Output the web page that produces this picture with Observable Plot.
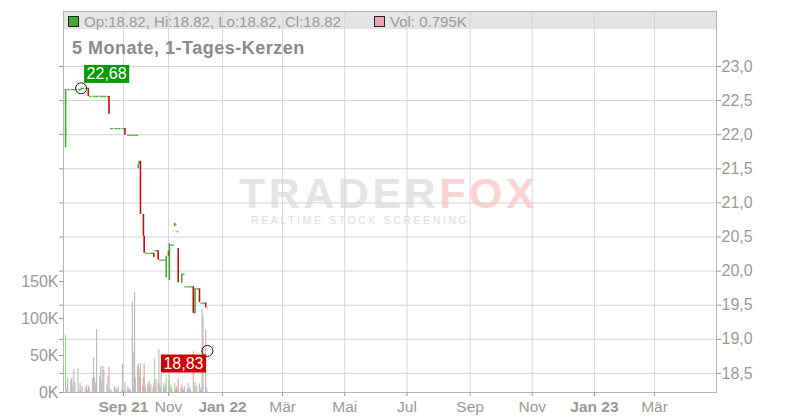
<!DOCTYPE html>
<html><head><meta charset="utf-8">
<script src="https://cdn.jsdelivr.net/npm/d3@7"></script>
<script src="https://cdn.jsdelivr.net/npm/@observablehq/plot@0.6"></script>
<style>
body{margin:0;background:#fff;font-family:"Liberation Sans",Arial,sans-serif;}
#wrap{position:relative;width:800px;height:420px;overflow:hidden;background:#fff;}
#wrap > *{position:absolute;left:0;top:0;}
.lg{position:absolute;font-size:15px;line-height:15px;color:#9a9a9a;white-space:nowrap;}
</style></head><body><div id="wrap"></div>
<script>
// ---- data ----
const dates = [
"2021-07-07","2021-07-08","2021-07-09","2021-07-12","2021-07-13","2021-07-14","2021-07-15","2021-07-16","2021-07-19","2021-07-20","2021-07-21","2021-07-22","2021-07-23","2021-07-26","2021-07-27","2021-07-28","2021-07-29","2021-07-30",
"2021-08-02","2021-08-03","2021-08-04","2021-08-05","2021-08-06","2021-08-09","2021-08-10","2021-08-11","2021-08-12","2021-08-13","2021-08-16","2021-08-17","2021-08-18","2021-08-19","2021-08-20","2021-08-23","2021-08-24","2021-08-25","2021-08-26","2021-08-27","2021-08-30","2021-08-31",
"2021-09-01","2021-09-02","2021-09-03","2021-09-06","2021-09-07","2021-09-08","2021-09-09","2021-09-10","2021-09-13","2021-09-14","2021-09-15","2021-09-16","2021-09-17","2021-09-20","2021-09-21","2021-09-22","2021-09-23","2021-09-24","2021-09-27","2021-09-28","2021-09-29","2021-09-30",
"2021-10-01","2021-10-04","2021-10-05","2021-10-06","2021-10-07","2021-10-08","2021-10-11","2021-10-12","2021-10-13","2021-10-14","2021-10-15","2021-10-18","2021-10-19","2021-10-20","2021-10-21","2021-10-22","2021-10-25","2021-10-26","2021-10-27","2021-10-28","2021-10-29",
"2021-11-01","2021-11-02","2021-11-03","2021-11-04","2021-11-05","2021-11-08","2021-11-09","2021-11-10","2021-11-11","2021-11-12","2021-11-15","2021-11-16","2021-11-17","2021-11-18","2021-11-19","2021-11-22","2021-11-23","2021-11-24","2021-11-25","2021-11-26","2021-11-29","2021-11-30",
"2021-12-01","2021-12-02","2021-12-03","2021-12-06","2021-12-07","2021-12-08","2021-12-09","2021-12-10","2021-12-13","2021-12-14","2021-12-15"];
const opens = [
21.81,22.66,22.66,22.66,22.66,22.66,22.66,22.66,22.66,22.66,22.66,22.66,22.68,22.68,22.68,22.68,22.68,22.56,
22.56,22.56,22.56,22.56,22.56,22.56,22.56,22.56,22.56,22.56,22.56,22.56,22.56,22.09,22.09,22.09,22.09,22.09,22.09,22.09,22.09,22.09,
22.09,22.09,22.09,21.99,21.99,21.99,21.99,21.99,21.99,21.99,21.99,21.99,21.99,21.99,21.50,21.56,21.61,21.61,20.83,20.83,20.51,20.26,
20.26,20.26,20.26,20.26,20.26,20.26,20.26,20.26,20.30,20.30,20.30,20.30,20.16,20.16,20.16,20.16,20.16,20.16,20.16,20.16,19.90,
20.29,19.86,20.38,20.38,20.38,20.65,20.68,20.58,20.58,20.33,19.83,19.83,19.96,19.95,19.77,19.77,19.77,19.77,19.77,19.77,19.77,19.38,
19.38,19.74,19.74,19.74,19.53,19.53,19.53,19.53,19.53,19.46,18.82];
const closes = [
22.66,22.66,22.66,22.66,22.66,22.66,22.66,22.66,22.66,22.66,22.66,22.68,22.68,22.68,22.68,22.68,22.56,22.56,
22.56,22.56,22.56,22.56,22.56,22.56,22.56,22.56,22.56,22.56,22.56,22.56,22.30,22.09,22.09,22.09,22.09,22.09,22.09,22.09,22.09,22.09,
22.09,22.09,21.99,21.99,21.99,21.99,21.99,21.99,21.99,21.99,21.99,21.99,21.99,21.99,21.56,21.61,21.61,20.83,20.83,20.51,20.26,20.26,
20.26,20.26,20.26,20.26,20.26,20.26,20.26,20.20,20.30,20.30,20.30,20.16,20.16,20.16,20.16,20.16,20.16,20.16,20.16,20.16,20.22,
20.22,20.40,20.38,20.38,20.38,20.70,20.68,20.58,20.58,19.83,19.83,19.96,19.96,19.95,19.77,19.77,19.77,19.77,19.77,19.77,19.38,19.38,
19.74,19.74,19.74,19.54,19.53,19.53,19.53,19.53,19.46,19.46,18.82];
const volumesK = [
78,4,19,16,20,9,31,14,32,3,12,4,8,5,10,3,9,6,
19,47,20,12,85,22,35,15,35,30,12,22,34,4,3,8,4,6,3,7,3,38,
3,2,13,3,8,3,5,3,123,6,55,135,20,34,38,32,20,39,8,20,39,10,
6,12,8,15,4,10,6,12,45,8,18,14,58,10,6,25,8,12,5,9,20,
15,25,6,10,4,12,4,8,3,18,5,10,6,3,8,4,12,5,7,3,55,8,
14,5,9,12,3,6,112,103,84,6,0.795];

const priceTicks = [18.5,19.0,19.5,20.0,20.5,21.0,21.5,22.0,22.5,23.0];
const volumeTicks = [0,50,100,150];
const monthTickDates = ["2021-09-01","2021-11-01","2022-01-01","2022-03-01","2022-05-01","2022-07-01","2022-09-01","2022-11-01","2023-01-01","2023-03-01"];
const monthTickLabels = ["Sep 21","Nov","Jan 22","Mär","Mai","Jul","Sep","Nov","Jan 23","Mär"];
const markerDates = ["2021-07-22","2021-12-15"];
const markerValues = [22.68,18.83];
const markerKinds = ["high","low"];
const titleText = "5 Monate, 1-Tages-Kerzen";
const last = {op:18.82, hi:18.82, lo:18.82, cl:18.82, volK:0.795};

// ---- config ----
const GREEN = "#45a834", RED = "#bb1111";
const VGREY = "#bdbdbd", VGREEN = "#a6d99d", VPINK = "#eea4ac";
const BOX = {high: "#0a990a", low: "#cc0000"};
const parse = d3.utcParse("%Y-%m-%d");
const W = 800, H = 420, M = {top:11, bottom:28, left:63, right:84};
const xAnchors = ["2021-07-05","2021-09-01","2021-11-01","2022-01-01","2023-03-01","2023-05-01"].map(parse);
const xScale = {type:"utc", domain:xAnchors, range:[63,123,168,222,654,716]};
const priceDomain = [18.22, 23.806];
const fmtComma = d => d.toFixed(1).replace(".", ",");
const fmtComma2 = d => d.toFixed(2).replace(".", ",");

const days = dates.map((d,i) => ({
  date: parse(d), next: i < dates.length-1 ? parse(dates[i+1]) : null,
  open: opens[i], close: closes[i], vol: volumesK[i],
  prev: i ? closes[i-1] : opens[i]
}));
const moves = days.filter(d => d.open !== d.close);
const flats = days.filter(d => d.open === d.close && d.next);
const markers = markerDates.map((d,i) => ({date: parse(d), value: markerValues[i], kind: markerKinds[i], label: fmtComma2(markerValues[i])}));
const ticks = monthTickDates.map((d,i) => ({date: parse(d), label: monthTickLabels[i]}));
const labelOf = new Map(ticks.map(t => [+t.date, t.label]));
const yearTicks = ticks.filter(t => /\d/.test(t.label)).map(t => t.date);
const plainTicks = ticks.filter(t => !/\d/.test(t.label)).map(t => t.date);

const base = {
  width: W, height: H, marginTop: M.top, marginBottom: M.bottom, marginLeft: M.left, marginRight: M.right,
  style: {background: "transparent", fontFamily: '"Liberation Sans", Arial, sans-serif', color: "#9a9a9a", overflow: "visible"}
};

// Plot A: grid, frame, axes (price scale)
const gridPlot = Plot.plot({
  ...base,
  x: {...xScale},
  y: {domain: priceDomain, label: null},
  marks: [
    Plot.gridX(ticks.map(t => t.date), {stroke: "#d6d6d6", strokeOpacity: 1}),
    Plot.gridY(priceTicks, {stroke: "#d6d6d6", strokeOpacity: 1}),
    Plot.frame({stroke: "#b4b4b4"}),
    Plot.axisY(priceTicks, {anchor: "right", tickFormat: fmtComma, tickSize: 4, tickPadding: 1, fontSize: 16, label: null}),
    Plot.axisY(priceTicks, {anchor: "left", tickFormat: () => "", tickSize: 4, label: null}),
    Plot.axisX(yearTicks, {anchor: "bottom", tickFormat: d => labelOf.get(+d), tickSize: 4, tickPadding: 4, fontSize: 15.5, fontWeight: "bold", label: null}),
    Plot.axisX(plainTicks, {anchor: "bottom", tickFormat: d => labelOf.get(+d), tickSize: 4, tickPadding: 4, fontSize: 15.5, label: null})
  ]
});

// Plot B: volume
const volPlot = Plot.plot({
  ...base,
  x: {...xScale, axis: null},
  y: {domain: [0, 515], label: null, axis: null},
  marks: [
    Plot.ruleX(days, {x: "date", y1: 0, y2: "vol", strokeWidth: 1.2,
      stroke: d => d.close > d.prev ? VGREEN : d.close < d.prev ? VPINK : VGREY}),
    Plot.axisY(volumeTicks, {anchor: "left", tickFormat: d => d + "K", tickSize: 4, tickPadding: 1, fontSize: 16, label: null})
  ]
});

// Plot C: candles & markers
const candlePlot = Plot.plot({
  ...base,
  x: {...xScale, axis: null},
  y: {domain: priceDomain, label: null, axis: null},
  marks: [
    Plot.link(flats, {x1: "date", x2: "next", y1: "close", y2: "close", stroke: GREEN, strokeWidth: 1.3, strokeDasharray: "2,1"}),
    Plot.ruleX(moves, {x: "date", y1: "open", y2: "close", strokeWidth: 1.6, stroke: d => d.close > d.open ? GREEN : RED}),
    Plot.dot(markers, {x: "date", y: "value", r: 5.5, stroke: "#1a1a1a", strokeWidth: 1, fill: "none"}),
    Plot.text(markers.filter(d => d.kind === "high"), {x: "date", y: "value", text: "label",
      textAnchor: "start", dx: 5.5, dy: -14, fill: "white", fontSize: 16}),
    Plot.text(markers.filter(d => d.kind === "low"), {x: "date", y: "value", text: "label",
      textAnchor: "end", dx: -4, dy: 13, fill: "white", fontSize: 16})
  ]
});

const wrap = document.getElementById("wrap");
function div(style, text, cls) {
  const e = document.createElement("div");
  e.style.cssText = style;
  if (cls) e.className = cls;
  if (text) e.textContent = text;
  wrap.appendChild(e);
  return e;
}

// header band (under grid)
div("left:63px;top:11px;width:653px;height:18px;background:#e4e4e4;");
// watermark (under grid)
const wm = div('left:239px;top:173px;font:bold 43px/40px "Liberation Sans",Arial,sans-serif;letter-spacing:3.5px;white-space:nowrap;');
wm.innerHTML = '<span style="color:#e5e5e5">TRADER</span><span style="color:#fbd3d3">FOX</span>';
div('left:251px;top:215px;font:10.5px/10px "Liberation Sans",Arial,sans-serif;letter-spacing:2.6px;color:#dedede;white-space:nowrap;',
  'REALTIME STOCK SCREENING');
wrap.appendChild(gridPlot);
wrap.appendChild(volPlot);
wrap.appendChild(candlePlot);

// label boxes behind the marker texts
candlePlot.querySelectorAll("text").forEach(t => {
  const m = markers.find(d => d.label === t.textContent);
  if (!m) return;
  const b = t.getBBox();
  const r = document.createElementNS("http://www.w3.org/2000/svg", "rect");
  r.setAttribute("x", b.x - 2.5); r.setAttribute("y", b.y - 0.5);
  r.setAttribute("width", b.width + 5); r.setAttribute("height", b.height + 1);
  r.setAttribute("fill", BOX[m.kind]);
  if (t.getAttribute("transform")) r.setAttribute("transform", t.getAttribute("transform"));
  t.parentNode.insertBefore(r, t);
});

// legend + title
div(`left:68px;top:16px;width:9px;height:9px;border:1px solid #222;background:${GREEN};`);
div('left:84px;top:14px;', `Op:${last.op}, Hi:${last.hi}, Lo:${last.lo}, Cl:${last.cl}`, "lg");
div('left:374px;top:16px;width:9px;height:9px;border:1px solid #222;background:#eea4ac;');
div('left:390px;top:14px;', `Vol: ${last.volK}K`, "lg");
div('left:72px;top:39px;font:bold 18px/18px "Liberation Sans",Arial,sans-serif;letter-spacing:0.5px;color:#8a8a8a;white-space:nowrap;', titleText);
</script></body></html>
